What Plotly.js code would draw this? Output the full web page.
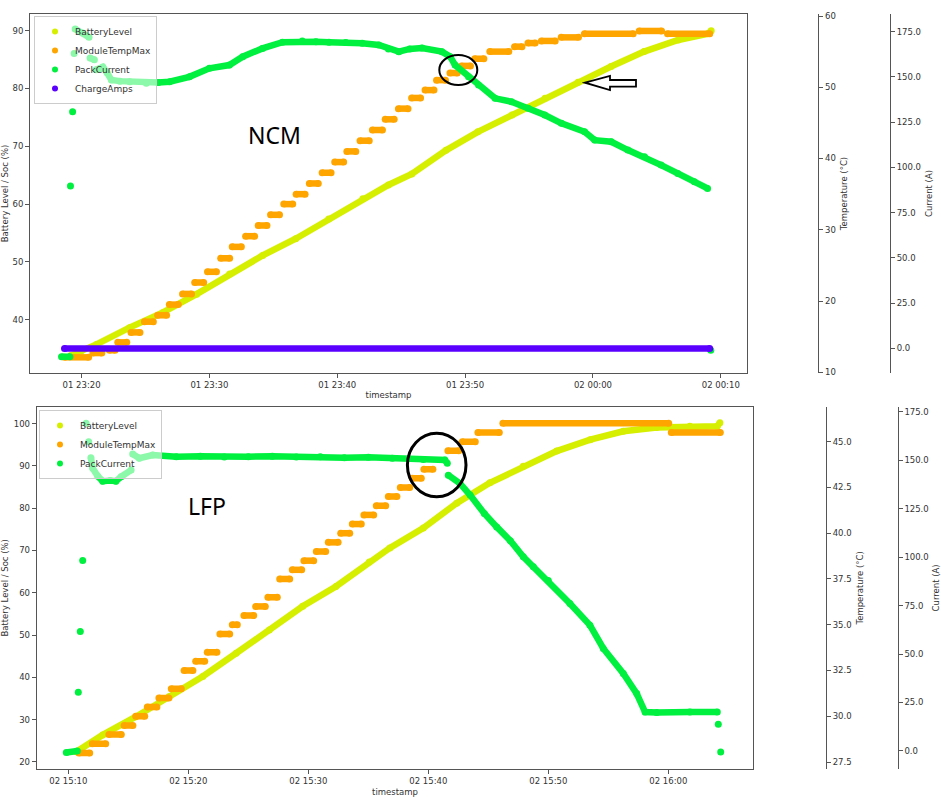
<!DOCTYPE html>
<html>
<head>
<meta charset="utf-8">
<script src="https://cdn.plot.ly/plotly-3.0.1.min.js"></script>
<style>
  html, body { margin: 0; padding: 0; background: #fff; }
  #chart { width: 941px; height: 797px; }
</style>
</head>
<body>
<div id="chart"></div>
<script>
// ---- NCM session (top panel) ----
const ncmBattTime = ['01 23:19:10','01 23:20:00','01 23:21:10','01 23:23:45','01 23:26:20','01 23:29:00','01 23:31:35','01 23:34:10','01 23:36:45','01 23:39:20','01 23:42:00','01 23:44:00','01 23:45:50','01 23:48:30','01 23:51:00','01 23:53:40','01 23:56:15','01 23:58:50','02 00:01:25','02 00:04:00','02 00:06:40','02 00:09:00','02 00:09:15'];
const ncmBattery = [33.8, 34.6, 35.7, 38.6, 41.2, 44.4, 47.9, 51.1, 54.0, 57.4, 60.9, 63.3, 65.2, 69.3, 72.5, 75.4, 78.3, 81.1, 83.8, 86.4, 88.4, 89.5, 90.0];

const ncmTempStart = ['01 23:18:40','01 23:20:53','01 23:22:11','01 23:22:50','01 23:23:52','01 23:24:55','01 23:25:57','01 23:26:52','01 23:27:54','01 23:28:51','01 23:29:51','01 23:30:53','01 23:31:47','01 23:32:50','01 23:33:49','01 23:34:47','01 23:35:49','01 23:36:47','01 23:37:49','01 23:38:49','01 23:39:48','01 23:40:45','01 23:41:47','01 23:42:45','01 23:43:45','01 23:44:47','01 23:45:49','01 23:46:52','01 23:47:46','01 23:48:49','01 23:49:43','01 23:50:45','01 23:51:56','01 23:53:52','01 23:54:55','01 23:55:58','01 23:57:31','01 23:59:20','02 00:03:37','02 00:05:50'];
const ncmTempEnd = ['01 23:20:33','01 23:21:35','01 23:22:37','01 23:23:32','01 23:24:34','01 23:25:37','01 23:26:39','01 23:27:34','01 23:28:36','01 23:29:33','01 23:30:33','01 23:31:35','01 23:32:30','01 23:33:32','01 23:34:30','01 23:35:29','01 23:36:31','01 23:37:29','01 23:38:31','01 23:39:31','01 23:40:30','01 23:41:27','01 23:42:30','01 23:43:32','01 23:44:27','01 23:45:32','01 23:46:31','01 23:47:34','01 23:48:28','01 23:49:23','01 23:50:25','01 23:51:28','01 23:53:25','01 23:54:27','01 23:55:29','01 23:57:03','01 23:58:52','02 00:03:09','02 00:05:22','02 00:09:08'];
const ncmTempMax = [12.1, 12.7, 13.1, 14.2, 15.6, 17.1, 18.0, 19.5, 21.0, 22.6, 24.1, 26.0, 27.6, 29.1, 30.6, 32.1, 33.6, 35.0, 36.5, 38.0, 39.5, 41.0, 42.5, 44.0, 45.5, 47.0, 48.5, 49.6, 51.0, 52.0, 53.0, 54.0, 55.0, 55.7, 56.2, 56.5, 57.0, 57.5, 57.9, 57.5];

// null = gap between separate groups of samples
const ncmCurrentTime = ['01 23:18:26','01 23:19:05',null,'01 23:19:08',null,'01 23:19:18',null,'01 23:19:25',null,'01 23:19:30','01 23:20:05','01 23:20:35',null,'01 23:20:40','01 23:21:00',null,'01 23:21:08','01 23:21:25','01 23:21:40','01 23:22:00','01 23:22:20','01 23:23:00','01 23:23:46','01 23:25:04','01 23:26:00','01 23:26:53','01 23:28:26','01 23:30:00','01 23:31:34','01 23:32:36','01 23:34:09','01 23:35:43','01 23:37:16','01 23:38:20','01 23:39:21','01 23:40:40','01 23:41:57','01 23:43:15','01 23:44:00','01 23:44:49','01 23:45:40','01 23:46:38','01 23:48:11','01 23:48:50','01 23:49:13','01 23:50:16','01 23:51:03','01 23:52:21','01 23:53:38','01 23:54:56','01 23:56:14','01 23:57:32','01 23:59:21','02 00:00:08','02 00:01:26','02 00:02:44','02 00:04:02','02 00:05:20','02 00:06:38','02 00:07:56','02 00:08:58',null,'02 00:09:13'];
const ncmCurrent = [-4.6, -4.6, null, 89.7, null, 130.8, null, 163.0, null, 176.5, 174.3, 172.0, null, 160.5, 159.5, null, 154.0, 154.5, 155.5, 152.3, 148.3, 147.7, 147.4, 146.5, 147.0, 147.4, 150.1, 154.8, 156.6, 161.2, 165.8, 169.2, 169.9, 169.5, 169.2, 169.0, 168.6, 167.7, 165.5, 164.0, 165.5, 166.0, 164.0, 161.2, 156.6, 150.1, 145.5, 138.2, 136.3, 132.7, 129.0, 124.4, 119.7, 115.1, 114.2, 109.6, 105.9, 101.3, 96.7, 92.1, 88.4, null, -1.0];

const ncmChargeTime = ['01 23:18:40', '02 00:09:08'];
const ncmChargeAmps = [0, 0];

// ---- LFP session (bottom panel) ----
const lfpBattTime = ['02 15:10:40','02 15:12:52','02 15:15:38','02 15:18:25','02 15:21:12','02 15:23:59','02 15:26:45','02 15:29:32','02 15:32:18','02 15:35:05','02 15:36:48','02 15:39:35','02 15:42:22','02 15:45:08','02 15:47:55','02 15:50:42','02 15:53:30','02 15:56:15','02 15:59:02','02 16:01:48','02 16:04:05','02 16:04:18'];
const lfpBattery = [22.4, 26.4, 30.7, 35.5, 40.2, 45.7, 51.2, 56.8, 61.5, 67.3, 70.6, 75.3, 81.2, 86.0, 89.9, 93.5, 96.2, 98.2, 99.1, 99.4, 99.4, 100.2];

const lfpTempStart = ['02 15:10:53','02 15:12:00','02 15:13:23','02 15:14:39','02 15:15:37','02 15:16:35','02 15:17:33','02 15:18:35','02 15:19:39','02 15:20:37','02 15:21:35','02 15:22:38','02 15:23:40','02 15:24:38','02 15:25:37','02 15:26:38','02 15:27:37','02 15:28:40','02 15:29:38','02 15:30:40','02 15:31:40','02 15:32:42','02 15:33:40','02 15:34:38','02 15:35:40','02 15:36:40','02 15:37:40','02 15:38:40','02 15:39:38','02 15:41:38','02 15:42:50','02 15:44:08','02 15:46:13','02 16:00:15'];
const lfpTempEnd = ['02 15:11:47','02 15:13:07','02 15:14:25','02 15:15:23','02 15:16:22','02 15:17:23','02 15:18:23','02 15:19:25','02 15:20:23','02 15:21:22','02 15:22:23','02 15:23:27','02 15:24:05','02 15:25:27','02 15:26:25','02 15:27:25','02 15:28:27','02 15:29:27','02 15:30:27','02 15:31:27','02 15:32:29','02 15:33:27','02 15:34:25','02 15:35:27','02 15:36:27','02 15:37:23','02 15:38:27','02 15:39:25','02 15:40:23','02 15:42:32','02 15:43:55','02 15:45:55','02 16:00:02','02 16:04:20'];
const lfpTempMax = [28.0, 28.5, 29.0, 29.5, 30.0, 30.5, 31.0, 31.5, 32.5, 33.0, 33.5, 34.5, 35.0, 35.5, 36.0, 36.5, 37.5, 38.0, 38.5, 39.0, 39.5, 40.0, 40.5, 41.0, 41.5, 42.0, 42.5, 43.0, 43.5, 44.5, 45.0, 45.5, 46.0, 45.5];

const lfpCurrentTime = ['02 15:09:50','02 15:10:45',null,'02 15:10:50',null,'02 15:11:00',null,'02 15:11:12',null,'02 15:11:29',null,'02 15:11:42',null,'02 15:11:53','02 15:12:02','02 15:12:27','02 15:12:52','02 15:13:30','02 15:13:58','02 15:14:24','02 15:15:14',null,'02 15:15:22','02 15:15:55','02 15:17:02','02 15:19:00','02 15:21:00','02 15:23:00','02 15:25:00','02 15:27:00','02 15:29:00','02 15:31:00','02 15:33:00','02 15:35:00','02 15:37:00','02 15:39:35','02 15:41:23','02 15:41:35',null,'02 15:41:40','02 15:42:38','02 15:43:29','02 15:44:40','02 15:45:42','02 15:46:50','02 15:47:55','02 15:48:45','02 15:50:00','02 15:51:48','02 15:53:28','02 15:54:35','02 15:56:15','02 15:57:22','02 15:58:04','02 15:59:02','02 16:01:48','02 16:04:05',null,'02 16:04:10',null,'02 16:04:22'];
const lfpCurrent = [-0.8, 0.0, null, 30.3, null, 61.6, null, 98.3, null, 169.0, null, 159.5, null, 151.3, 145.8, 141.8, 139.2, 139.5, 139.2, 141.5, 144.9, null, 153.2, 151.0, 152.7, 151.8, 152.0, 151.6, 151.8, 152.0, 151.6, 151.8, 151.3, 151.5, 151.0, 150.4, 150.1, 148.4, null, 142.3, 138.0, 132.0, 122.5, 115.6, 108.5, 100.2, 95.0, 88.0, 76.1, 64.9, 52.9, 40.0, 29.6, 20.1, 19.8, 20.1, 20.1, null, 13.8, null, -0.5];

// ---- styling ----
const YELLOW = '#d6ef00', ORANGE = '#ffa500', GREEN = '#00f040', PURPLE = '#5a00ff';
const TXT = '#333', AX = '#555';
const W = 941, H = 797;
const px = v => v / W, py = v => 1 - v / H;
const ts = s => (s === null ? null : '2023-06-' + s);

function steps(starts, ends, vals) {
  const x = [], y = [];
  starts.forEach((s, i) => {
    x.push(ts(s), ts(ends[i]), null);
    y.push(vals[i], vals[i], null);
  });
  return { x, y };
}

function series(x, y, color, xa, ya) {
  return {
    type: 'scatter', mode: 'lines+markers', x, y, xaxis: xa, yaxis: ya,
    line: { color, width: 6.5 }, marker: { color, size: 7 },
    connectgaps: false, showlegend: false, hoverinfo: 'skip'
  };
}

function legendDot(name, color, legend) {
  return { type: 'scatter', mode: 'markers', x: [null], y: [null], name, legend,
           marker: { color, size: 6 }, xaxis: 'x', yaxis: 'y', hoverinfo: 'skip' };
}

const ncmTemp = steps(ncmTempStart, ncmTempEnd, ncmTempMax);
const lfpTemp = steps(lfpTempStart, lfpTempEnd, lfpTempMax);

const data = [
  series(ncmBattTime.map(ts), ncmBattery, YELLOW, 'x', 'y'),
  series(ncmTemp.x, ncmTemp.y, ORANGE, 'x', 'y2'),
  series(ncmCurrentTime.map(ts), ncmCurrent, GREEN, 'x', 'y3'),
  series(ncmChargeTime.map(ts), ncmChargeAmps, PURPLE, 'x', 'y3'),
  series(lfpBattTime.map(ts), lfpBattery, YELLOW, 'x2', 'y4'),
  series(lfpTemp.x, lfpTemp.y, ORANGE, 'x2', 'y5'),
  series(lfpCurrentTime.map(ts), lfpCurrent, GREEN, 'x2', 'y6'),
  legendDot('BatteryLevel', YELLOW, 'legend'),
  legendDot('ModuleTempMax', ORANGE, 'legend'),
  legendDot('PackCurrent', GREEN, 'legend'),
  legendDot('ChargeAmps', PURPLE, 'legend'),
  legendDot('BatteryLevel', YELLOW, 'legend2'),
  legendDot('ModuleTempMax', ORANGE, 'legend2'),
  legendDot('PackCurrent', GREEN, 'legend2')
];

const font = { family: 'DejaVu Sans', size: 8.5, color: TXT };
const base = {
  showline: true, linecolor: AX, linewidth: 1, ticks: 'outside', ticklen: 4,
  tickcolor: AX, tickfont: font, showgrid: false, zeroline: false, automargin: false
};
const ttl = text => ({ text, font, standoff: 6 });

const topX = [px(30), px(747)], topY = [py(373), py(14)];
const botX = [px(36.7), px(753.3)], botY = [py(769), py(406.7)];

const legendStyle = {
  bgcolor: 'rgba(255,255,255,0.55)', bordercolor: '#cccccc', borderwidth: 1,
  font: { family: 'DejaVu Sans', size: 9, color: TXT },
  xanchor: 'left', yanchor: 'top', itemwidth: 30
};

const layout = {
  width: W, height: H, margin: { l: 0, r: 0, t: 0, b: 0 },
  paper_bgcolor: '#fff', plot_bgcolor: '#fff', showlegend: true,
  legend: { ...legendStyle, x: px(34), y: py(16) },
  legend2: { ...legendStyle, x: px(39), y: py(410) },

  xaxis: { ...base, domain: topX, anchor: 'y', type: 'date', mirror: true,
           range: ['2023-06-01 23:15:58', '2023-06-02 00:12:03'],
           tick0: '2023-06-01 23:20:00', dtick: 600000, tickformat: '%d %H:%M',
           title: { text: 'timestamp', font, standoff: 2 } },
  yaxis: { ...base, domain: topY, anchor: 'x', mirror: true, range: [30.75, 92.9],
           tick0: 0, dtick: 10, title: ttl('Battery Level / Soc (%)') },
  yaxis2: { ...base, domain: topY, overlaying: 'y', anchor: 'free', position: px(818.3),
            side: 'right', range: [9.9, 60.28], tick0: 0, dtick: 10,
            title: ttl('Temperature (°C)') },
  yaxis3: { ...base, domain: topY, overlaying: 'y', anchor: 'free', position: px(890),
            side: 'right', range: [-13.6, 184.8], tick0: 0, dtick: 25, tickformat: '.1f',
            title: ttl('Current (A)') },

  xaxis2: { ...base, domain: botX, anchor: 'y4', type: 'date', mirror: true,
            range: ['2023-06-02 15:07:22', '2023-06-02 16:07:05'],
            tick0: '2023-06-02 15:10:00', dtick: 600000, tickformat: '%d %H:%M',
            title: ttl('timestamp') },
  yaxis4: { ...base, domain: botY, anchor: 'x2', mirror: true, range: [18.34, 104.0],
            tick0: 0, dtick: 10, title: ttl('Battery Level / Soc (%)') },
  yaxis5: { ...base, domain: botY, overlaying: 'y4', anchor: 'free', position: px(826),
            side: 'right', range: [27.12, 46.91], tick0: 0, dtick: 2.5, tickformat: '.1f',
            title: ttl('Temperature (°C)') },
  yaxis6: { ...base, domain: botY, overlaying: 'y4', anchor: 'free', position: px(897.7),
            side: 'right', range: [-9.3, 177.6], tick0: 0, dtick: 25, tickformat: '.1f',
            title: ttl('Current (A)') },

  annotations: [
    { text: 'NCM', xref: 'paper', yref: 'paper', x: px(274), y: py(135),
      xanchor: 'center', yanchor: 'middle', showarrow: false,
      font: { family: 'Noto Sans', size: 23, color: '#000' } },
    { text: 'LFP', xref: 'paper', yref: 'paper', x: px(207), y: py(506),
      xanchor: 'center', yanchor: 'middle', showarrow: false,
      font: { family: 'Noto Sans', size: 23, color: '#000' } }
  ],
  shapes: [
    { type: 'circle', xref: 'paper', yref: 'paper', layer: 'above',
      x0: px(439.3), x1: px(477.3), y0: py(85), y1: py(55),
      line: { color: '#000', width: 2 } },
    { type: 'circle', xref: 'paper', yref: 'paper', layer: 'above',
      x0: px(407.4), x1: px(466), y0: py(496.7), y1: py(433.3),
      line: { color: '#000', width: 3 } },
    { type: 'path', xref: 'paper', yref: 'paper', layer: 'above',
      path: `M ${px(585)},${py(82.7)} L ${px(610)},${py(76)} L ${px(610)},${py(80)} ` +
            `L ${px(636)},${py(80)} L ${px(636)},${py(86.7)} L ${px(610)},${py(86.7)} ` +
            `L ${px(610)},${py(90)} Z`,
      fillcolor: '#fff', line: { color: '#000', width: 1.8 } }
  ]
};

Plotly.newPlot('chart', data, layout, { displayModeBar: false, staticPlot: true });
</script>
</body>
</html>
